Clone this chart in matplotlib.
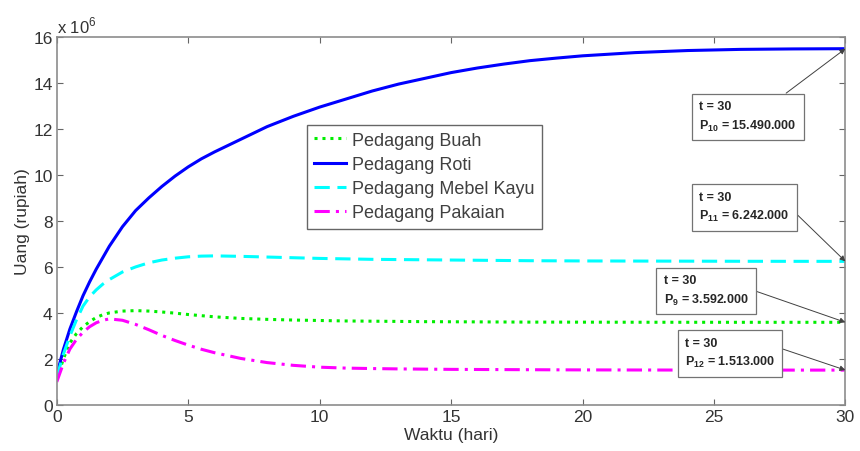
import matplotlib
matplotlib.use("Agg")
import matplotlib.pyplot as plt

plt.rcParams["font.family"] = ["Liberation Sans", "DejaVu Sans"]
plt.rcParams["mathtext.fontset"] = "custom"
plt.rcParams["mathtext.rm"] = "Liberation Sans"
plt.rcParams["mathtext.bf"] = "Liberation Sans:bold"

# waktu (hari)
t = [0, 0.25, 0.5, 0.75, 1, 1.25, 1.5, 1.75, 2, 2.5, 3, 3.5, 4, 4.5, 5, 5.5,
     6, 7, 8, 9, 10, 11, 12, 13, 14, 15, 16, 17, 18, 19, 20, 22, 24, 26, 28, 30]

# uang (x 10^6 rupiah)
buah = [1.1, 2.0, 2.7, 3.1, 3.4, 3.62, 3.8, 3.92, 4.0, 4.08, 4.1, 4.08, 4.04,
        3.99, 3.93, 3.88, 3.83, 3.76, 3.72, 3.69, 3.67, 3.65, 3.64, 3.63,
        3.62, 3.615, 3.61, 3.605, 3.6, 3.6, 3.598, 3.595, 3.593, 3.592,
        3.592, 3.592]
roti = [1.3, 2.4, 3.3, 4.05, 4.75, 5.35, 5.9, 6.4, 6.9, 7.75, 8.45, 9.0, 9.5,
        9.95, 10.35, 10.7, 11.0, 11.55, 12.1, 12.55, 12.95, 13.3, 13.65,
        13.95, 14.2, 14.45, 14.65, 14.82, 14.97, 15.08, 15.18, 15.32, 15.41,
        15.46, 15.48, 15.49]
mebel = [1.2, 2.2, 3.0, 3.7, 4.3, 4.7, 5.0, 5.25, 5.45, 5.78, 6.0, 6.18, 6.3,
         6.38, 6.44, 6.47, 6.48, 6.46, 6.43, 6.4, 6.37, 6.35, 6.33, 6.32,
         6.31, 6.30, 6.29, 6.28, 6.27, 6.265, 6.26, 6.255, 6.25, 6.245,
         6.243, 6.242]
pakaian = [1.0, 1.8, 2.43, 2.85, 3.16, 3.4, 3.57, 3.68, 3.74, 3.68, 3.5, 3.27,
           3.02, 2.8, 2.6, 2.42, 2.27, 2.02, 1.84, 1.72, 1.64, 1.6, 1.58,
           1.565, 1.555, 1.545, 1.54, 1.535, 1.53, 1.525, 1.522, 1.518, 1.515,
           1.514, 1.513, 1.513]

labels = ["Pedagang Buah", "Pedagang Roti", "Pedagang Mebel Kayu", "Pedagang Pakaian"]

fig = plt.figure(figsize=(8.6, 4.52), dpi=100)
ax = fig.add_axes([0.066, 0.102, 0.917, 0.814])

ax.plot(t, buah, color="#00ee00", ls=(0, (1, 1.6)), lw=2.2, label=labels[0])
ax.plot(t, roti, color="#0000ff", ls="-", lw=2.2, label=labels[1])
ax.plot(t, mebel, color="#00ffff", ls=(0, (5, 2.5)), lw=2.2, label=labels[2])
ax.plot(t, pakaian, color="#ff00ff", ls=(0, (5, 2, 1, 2)), lw=2.2, label=labels[3])

ax.set_xlim(0, 30)
ax.set_ylim(0, 16)
ax.set_xticks([0, 5, 10, 15, 20, 25, 30])
ax.set_yticks(range(0, 17, 2))
ax.tick_params(direction="in", length=4, top=True, right=True, pad=3,
               labelsize=12.5, color="0.4", labelcolor="0.2")
for s in ax.spines.values():
    s.set_color("0.55")
    s.set_linewidth(1.2)

ax.set_xlabel("Waktu (hari)", fontsize=12.5, color="0.2", labelpad=2)
ax.set_ylabel("Uang (rupiah)", fontsize=12.5, color="0.2", labelpad=2)
ax.text(0.0, 1.003, "x 10$^6$", transform=ax.transAxes, fontsize=12,
        color="0.2", va="bottom", ha="left")

leg = ax.legend(loc="upper left", bbox_to_anchor=(0.317, 0.762), fontsize=13,
                handlelength=1.8, handletextpad=0.3, borderpad=0.4,
                labelspacing=0.4, borderaxespad=0, fancybox=False, framealpha=1)
leg.get_frame().set_edgecolor("0.4")
for txt in leg.get_texts():
    txt.set_color("0.25")

# data tips at t = 30
tips = [("10", "15.490.000", roti[-1], 24.45, 12.55, (0.8, 1.0)),
        ("11", "6.242.000", mebel[-1], 24.45, 8.6, (1.0, 0.5)),
        ("9", "3.592.000", buah[-1], 23.1, 4.98, (1.0, 0.55)),
        ("12", "1.513.000", pakaian[-1], 23.9, 2.26, (1.0, 0.7))]
for sub, val, yv, tx, ty, rp in tips:
    ax.annotate("t = 30\nP$_{\\mathbf{" + sub + "}}$ = " + val, xy=(30, yv),
                xytext=(tx, ty), fontsize=9, fontweight="bold", color="0.15",
                va="center", ha="left", linespacing=1.5,
                bbox=dict(boxstyle="square,pad=0.6", fc="white", ec="0.45", lw=0.9),
                arrowprops=dict(arrowstyle="-|>", color="0.25", lw=0.7,
                                mutation_scale=8, relpos=rp, shrinkA=0, shrinkB=0))

fig.savefig("out.png", dpi=100)
